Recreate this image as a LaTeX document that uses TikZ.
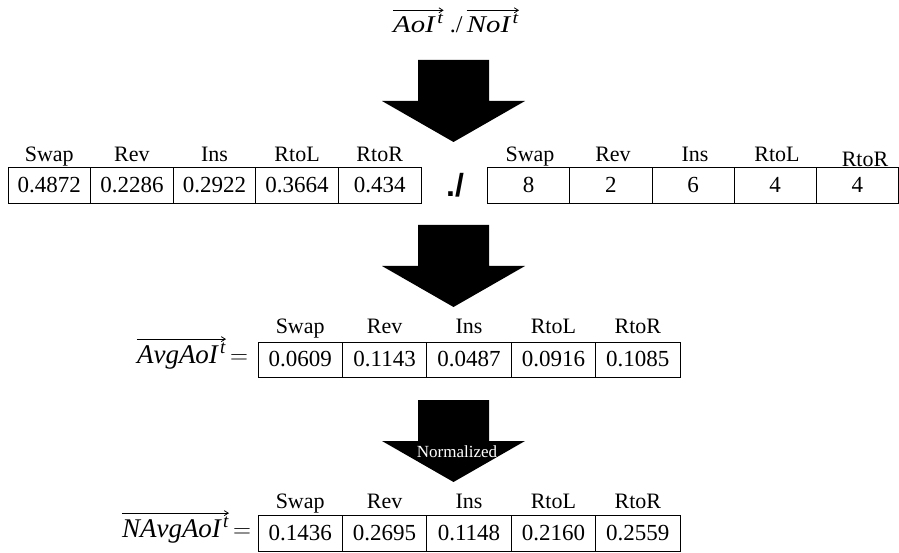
\documentclass[tikz,border=0pt]{standalone}
\usepackage{fontspec}
\usepackage{graphicx}
\usetikzlibrary{arrows.meta}
\setmainfont{Liberation Serif}
\newfontfamily\slashfont{Liberation Sans}
\newcommand{\itsup}[1]{$\mathit{#1}\mkern1.5mu^{\mathit{t}}$}
\begin{document}
\begin{tikzpicture}[x=1pt,y=-1pt,
  cell/.style={draw, line width=0.8pt, inner sep=0pt, minimum height=36pt,
    font=\fontsize{23}{27}\selectfont},
  head/.style={inner sep=0pt, anchor=base, font=\fontsize{22}{26}\selectfont},
  toplbl/.style={inner sep=0pt, font=\fontsize{24}{28}\selectfont},
  mathlbl/.style={inner sep=0pt, font=\fontsize{27}{31}\selectfont},
  vecarrow/.style={line width=0.8pt, -{Straight Barb[length=4pt,width=5pt]}},
  pics/bigarrow/.style={code={
    \fill[black] (-35.5,0) -- (35.5,0) -- (35.5,41) -- (71.5,41) -- (0,82)
      -- (-71.5,41) -- (-35.5,41) -- cycle;}}]
\useasboundingbox (0,0) rectangle (899,553);

% top formula
\node[toplbl, anchor=base west] (aoi) at (393,33) {\scalebox{1.2}[1]{\itsup{AoI}}};
\node[toplbl, anchor=base west] (topdiv) at ([xshift=6pt]aoi.base east) {./};
\node[toplbl, anchor=base west] (noi) at ([xshift=4pt]topdiv.base east) {\scalebox{1.2}[1]{\itsup{NoI}}};
\draw[vecarrow] ([yshift=4pt]aoi.north west) -- ([yshift=4pt]aoi.north east);
\draw[vecarrow] ([yshift=4pt]noi.north west) -- ([yshift=4pt]noi.north east);

% arrow 1
\pic at (453.5,60) {bigarrow};

% table 1
\foreach \v/\h [count=\i] in {0.4872/Swap,0.2286/Rev,0.2922/Ins,0.3664/RtoL,0.434/RtoR}{
  \node[cell, minimum width=82.6pt] (a\i) at ({8+41.3+82.6*(\i-1)},185) {\v};
  \node[head] (ah\i) at ({8+41.3+82.6*(\i-1)},162) {\h};
}
% ./ symbol
\node[inner sep=0pt, font=\slashfont\bfseries\fontsize{32}{36}\selectfont] (div) at (455,185) {./};

% table 2
\foreach \v/\h [count=\i] in {8/Swap,2/Rev,6/Ins,4/RtoL,4/RtoR}{
  \node[cell, minimum width=82.2pt] (b\i) at ({487.5+41.1+82.2*(\i-1)},185) {\v};
}
\foreach \h/\x/\y [count=\i] in {Swap/530/162,Rev/613/162,Ins/695/162,RtoL/777/162,RtoR/865/167}{
  \node[head] (bh\i) at (\x,\y) {\h};
}

% arrow 2
\pic at (453.5,225) {bigarrow};

% table 3
\foreach \v/\h [count=\i] in {0.0609/Swap,0.1143/Rev,0.0487/Ins,0.0916/RtoL,0.1085/RtoR}{
  \node[cell, minimum width=84.4pt, minimum height=35pt] (c\i) at ({258+42.2+84.4*(\i-1)},359.5) {\v};
  \node[head] (ch\i) at ({258+42.2+84.4*(\i-1)},333) {\h};
}
\node[mathlbl, anchor=base east] (clbl) at (226,363) {\itsup{AvgAoI}};
\node[mathlbl, anchor=base west] (ceq) at (230,363) {$=$};
\draw[vecarrow] ([yshift=4pt]clbl.north west) -- ([yshift=4pt]clbl.north east);

% arrow 3
\pic at (453.5,400) {bigarrow};
\node[inner sep=0pt, text=white, font=\fontsize{17}{20}\selectfont] (norm) at (457,452) {Normalized};

% table 4
\foreach \v/\h [count=\i] in {0.1436/Swap,0.2695/Rev,0.1148/Ins,0.2160/RtoL,0.2559/RtoR}{
  \node[cell, minimum width=84.4pt] (d\i) at ({258+42.2+84.4*(\i-1)},533) {\v};
  \node[head] (dh\i) at ({258+42.2+84.4*(\i-1)},508) {\h};
}
\node[mathlbl, anchor=base east] (dlbl) at (229,537) {\itsup{NAvgAoI}};
\node[mathlbl, anchor=base west] (deq) at (233,537) {$=$};
\draw[vecarrow] ([yshift=4pt]dlbl.north west) -- ([yshift=4pt]dlbl.north east);
\end{tikzpicture}
\end{document}
